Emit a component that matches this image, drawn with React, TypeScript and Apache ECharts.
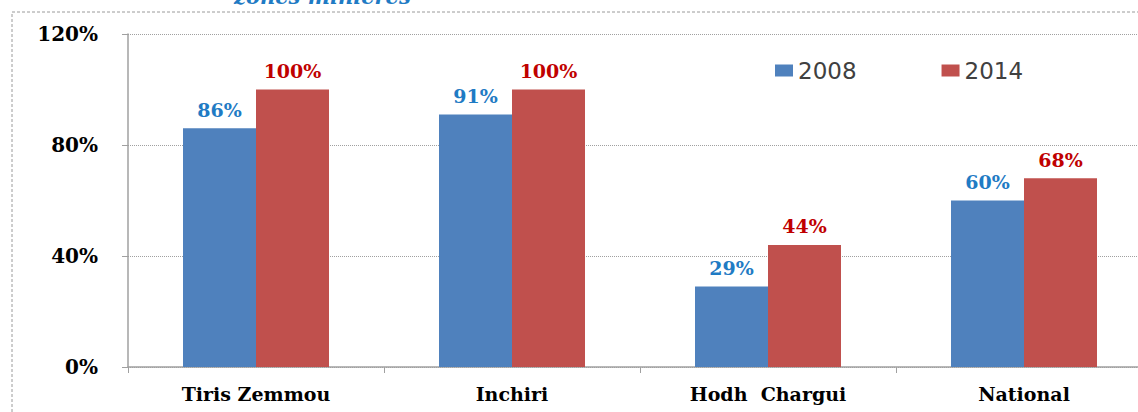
import React, { useEffect, useRef } from "react";
import * as echarts from "echarts";

const categories = ["Tiris Zemmou", "Inchiri", "Hodh  Chargui", "National"];
const values2008 = [86, 91, 29, 60];
const values2014 = [100, 100, 44, 68];
const seriesNames = ["2008", "2014"];
const titleText = "zones minières";

export default function App() {
  const ref = useRef<HTMLDivElement>(null);
  useEffect(() => {
    if (!ref.current) return;
    const chart = echarts.init(ref.current, undefined, { renderer: "svg" });
    const serif = "'DejaVu Serif', 'Liberation Serif', serif";
    chart.setOption({
      animation: false,
      backgroundColor: "#ffffff",
      graphic: [
        {
          type: "rect",
          shape: { x: 12, y: 12, width: 1300, height: 600 },
          style: { fill: "none", stroke: "#9a9a9a", lineWidth: 1, lineDash: [3, 2] },
          silent: true,
        },
        {
          type: "text",
          left: 234,
          top: -14,
          style: {
            text: titleText,
            fill: "#1F7BC4",
            font: "italic bold 21px 'DejaVu Serif', serif",
          },
        },
      ],
      legend: {
        data: seriesNames,
        left: 770,
        top: 54,
        itemWidth: 18,
        itemHeight: 12,
        itemGap: 85,
        icon: "rect",
        textStyle: { fontSize: 23, color: "#404040", fontFamily: "'DejaVu Sans', sans-serif" },
      },
      grid: { left: 128, top: 34, bottom: 45, right: 8, containLabel: false },
      xAxis: {
        type: "category",
        data: categories,
        axisLine: { lineStyle: { color: "#a0a0a0", width: 1.5 } },
        axisTick: { show: true, length: 6, lineStyle: { color: "#a0a0a0" } },
        axisLabel: {
          fontFamily: serif,
          fontWeight: "bold",
          fontSize: 19,
          color: "#000",
          margin: 17,
        },
      },
      yAxis: {
        type: "value",
        min: 0,
        max: 120,
        interval: 40,
        axisLine: { show: true, lineStyle: { color: "#a0a0a0", width: 1.5 } },
        axisTick: { show: true, length: 6, lineStyle: { color: "#a0a0a0" } },
        splitLine: { lineStyle: { color: "#a0a0a0", type: "dotted" } },
        axisLabel: {
          formatter: "{value}%",
          fontFamily: serif,
          fontWeight: "bold",
          fontSize: 20,
          color: "#000",
          margin: 30,
        },
      },
      series: [
        {
          name: seriesNames[0],
          type: "bar",
          data: values2008,
          barWidth: 73,
          barGap: "0%",
          itemStyle: { color: "#4F81BD" },
          label: {
            show: true,
            position: "top",
            distance: 9,
            formatter: "{c}%",
            fontFamily: serif,
            fontWeight: "bold",
            fontSize: 19,
            color: "#1F7BC4",
          },
        },
        {
          name: seriesNames[1],
          type: "bar",
          data: values2014,
          barWidth: 73,
          barGap: "0%",
          itemStyle: { color: "#C0504D" },
          label: {
            show: true,
            position: "top",
            distance: 9,
            formatter: "{c}%",
            fontFamily: serif,
            fontWeight: "bold",
            fontSize: 19,
            color: "#C00000",
          },
        },
      ],
    });
    return () => chart.dispose();
  }, []);
  return (
    <div
      ref={ref}
      style={{ position: "fixed", left: 0, top: 0, width: 1160, height: 412 }}
    />
  );
}
